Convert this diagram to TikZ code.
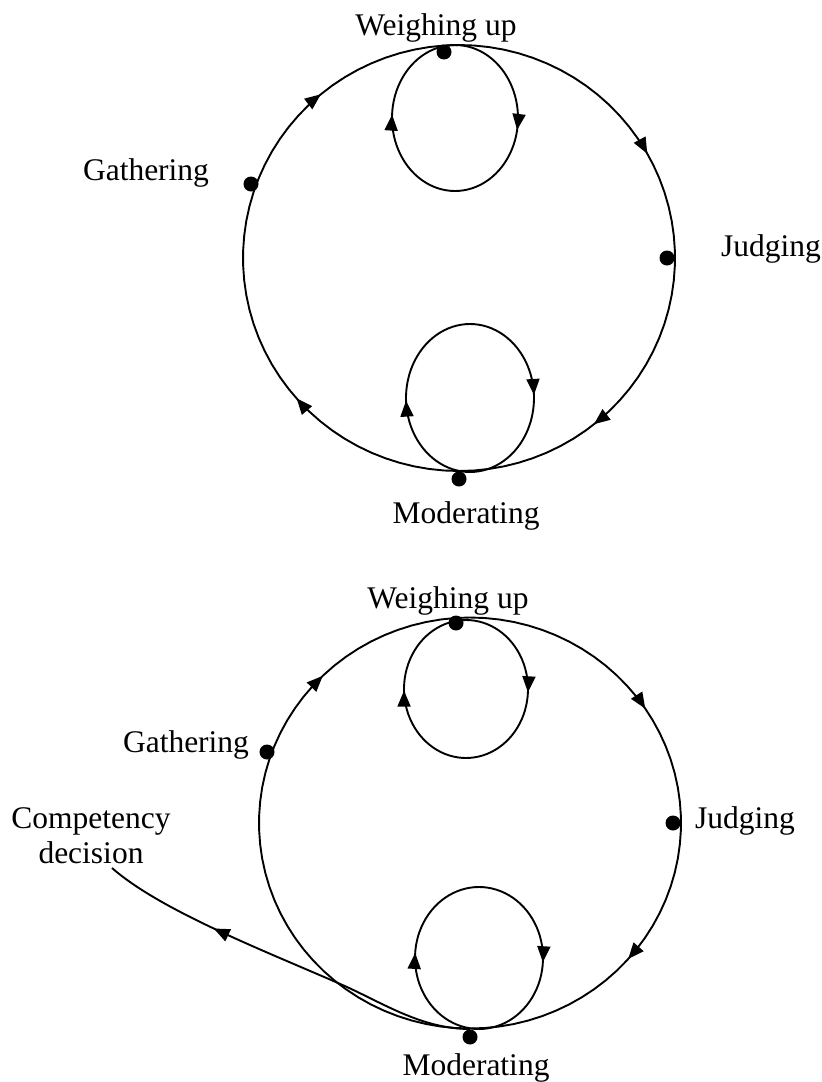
\documentclass[tikz,border=0pt]{standalone}
\usepackage{fontspec}
\setmainfont{Liberation Serif}
\usetikzlibrary{arrows.meta,decorations.markings}

% closed cycle traced clockwise on the page, starting at its top point
\newcommand\ring[4]{plot[domain=-90:270,samples=91] ({#1+#3*cos(\x)},{#2+#4*sin(\x)}) -- cycle}

\tikzset{
  flowtip/.tip={Triangle[length=16pt,width=13pt]},
  flow/.style={line width=1.9pt, line join=round},
  tip at/.style={postaction={decorate,decoration={markings,
      mark=at position #1 with {\arrow{flowtip}}}}},
  dot/.style={circle, fill=black, inner sep=0pt, minimum size=15pt},
  txt/.style={font=\fontsize{31.5}{35}\selectfont, inner sep=0pt},
  lbl/.style={txt, anchor=base},
}

\begin{document}
\begin{tikzpicture}[x=1pt,y=-1pt]
\useasboundingbox (0,0) rectangle (822,1082);

% ---------- upper cycle ----------
\draw[flow, tip at=0.169, tip at=0.392, tip at=0.636, tip at=0.889]
  \ring{459}{258}{216}{213};
\draw[flow, tip at=0.278, tip at=0.758] \ring{455}{118}{63}{73};
\draw[flow, tip at=0.243, tip at=0.744] \ring{470}{398}{64}{74};

\node[dot] (wu1) at (444,52) {};
\node[dot] (ga1) at (251,184) {};
\node[dot] (ju1) at (667,258) {};
\node[dot] (mo1) at (459,479) {};

\node[lbl] (wu1l) at (436,35) {Weighing up};
\node[lbl] (ga1l) at (146,180) {Gathering};
\node[lbl] (ju1l) at (771,256) {Judging};
\node[lbl] (mo1l) at (466,523) {Moderating};

% ---------- lower cycle with exit ----------
\draw[flow, tip at=0.157, tip at=0.364, tip at=0.876]
  \ring{470}{823}{211}{205.5};
\draw[flow, tip at=0.258, tip at=0.746] \ring{466}{689}{62}{69};
\draw[flow, tip at=0.26, tip at=0.762] \ring{479}{958}{64}{71};

\node[dot] (wu2) at (456,623) {};
\node[dot] (ga2) at (267,752) {};
\node[dot] (ju2) at (673,823) {};
\node[dot] (mo2) at (470,1037) {};

\node[lbl] (wu2l) at (448,608) {Weighing up};
\node[lbl] (ga2l) at (186,752) {Gathering};
\node[lbl] (ju2l) at (745,828) {Judging};
\node[lbl] (mo2l) at (476,1075) {Moderating};
\node[txt, align=center, anchor=north] (cd) at (91,807) {Competency\\decision};

\coordinate (exitfrom) at (470,1029);
\coordinate (exitcross) at (338,983);
\coordinate (exitto) at (112,868);
\draw[flow, tip at=0.70]
  (exitfrom) .. controls (420,1029) and (380,1001) .. (exitcross)
             .. controls (260,949) and (160,910) .. (exitto);
\end{tikzpicture}
\end{document}
